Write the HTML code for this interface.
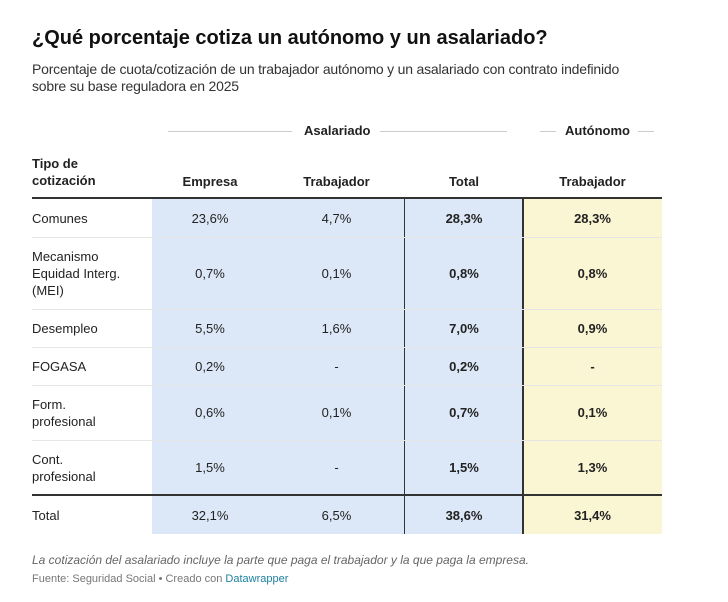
<!DOCTYPE html>
<html><head><meta charset="utf-8"><style>
body{margin:0;width:728px;height:602px;background:#fff;font-family:"Liberation Sans",sans-serif;color:#222;position:relative;overflow:hidden}
.a{position:absolute}
.c{position:absolute;text-align:center;font-size:13px}
.b{font-weight:bold}
.row{position:absolute;left:32px;width:630px;border-top:1px solid #e6e6e6}
</style></head><body>
<div class="a b" style="left:32px;top:27px;font-size:20px;color:#111">¿Qué porcentaje cotiza un autónomo y un asalariado?</div>
<div class="a" style="left:32px;top:61px;font-size:14px;line-height:17px;color:#333;width:690px;letter-spacing:-0.2px">Porcentaje de cuota/cotización de un trabajador autónomo y un asalariado con contrato indefinido<br>sobre su base reguladora en 2025</div>

<div class="a" style="left:168px;top:131px;width:124px;border-top:1px solid #ccc"></div>
<div class="a b" style="left:304px;top:123px;font-size:13px">Asalariado</div>
<div class="a" style="left:380px;top:131px;width:127px;border-top:1px solid #ccc"></div>
<div class="a" style="left:540px;top:131px;width:16px;border-top:1px solid #ccc"></div>
<div class="a b" style="left:565px;top:123px;font-size:13px">Autónomo</div>
<div class="a" style="left:638px;top:131px;width:16px;border-top:1px solid #ccc"></div>

<div class="a b" style="left:32px;top:155px;font-size:13px;line-height:17px">Tipo de<br>cotización</div>
<div class="c b" style="left:152px;width:116px;top:174px">Empresa</div>
<div class="c b" style="left:268px;width:137px;top:174px">Trabajador</div>
<div class="c b" style="left:405px;width:118px;top:174px">Total</div>
<div class="c b" style="left:523px;width:139px;top:174px">Trabajador</div>

<div class="a" style="left:152px;top:199px;width:371px;height:335px;background:#dce8f7"></div>
<div class="a" style="left:523px;top:199px;width:139px;height:335px;background:#faf6d3"></div>
<div class="a" style="left:32px;top:197px;width:630px;height:2px;background:#333"></div>
<div class="a" style="left:32px;top:494px;width:630px;height:2px;background:#333"></div>
<div class="a" style="left:404px;top:199px;width:1px;height:335px;background:#333"></div>
<div class="a" style="left:522px;top:199px;width:2px;height:335px;background:#333"></div>

<div id="rows"></div>

<div class="a" style="left:32px;top:553px;font-size:12px;font-style:italic;color:#666">La cotización del asalariado incluye la parte que paga el trabajador y la que paga la empresa.</div>
<div class="a" style="left:32px;top:573px;font-size:11px;color:#777">Fuente: Seguridad Social • Creado con <span style="color:#1d81a2">Datawrapper</span></div>

<script>
const labels=["Comunes","Mecanismo<br>Equidad Interg.<br>(MEI)","Desempleo","FOGASA","Form.<br>profesional","Cont.<br>profesional","Total"];
const empresa=["23,6%","0,7%","5,5%","0,2%","0,6%","1,5%","32,1%"];
const trabajador=["4,7%","0,1%","1,6%","-","0,1%","-","6,5%"];
const total=["28,3%","0,8%","7,0%","0,2%","0,7%","1,5%","38,6%"];
const autonomo=["28,3%","0,8%","0,9%","-","0,1%","1,3%","31,4%"];
const tops=[199,237,309,347,385,440,496];
const bots=[237,309,347,385,440,495,534];
const host=document.getElementById('rows');
function cell(left,width,top,h,txt,bold,name){
  const d=document.createElement('div');
  d.className='a';
  d.style.cssText=`left:${left}px;width:${width}px;top:${top}px;height:${h}px;display:flex;align-items:center;justify-content:${left===32?'flex-start':'center'};font-size:13px;line-height:17px;${bold?'font-weight:bold;':''}`;
  d.innerHTML=txt;
  
  
  host.appendChild(d);
}
for(let i=0;i<labels.length;i++){
  const t=tops[i],h=bots[i]-tops[i];
  if(i>0&&i<6){const s=document.createElement('div');s.className='row';s.style.top=t+'px';
    
    
    host.appendChild(s);}
  cell(32,120,t,h,labels[i],false,'row-label');
  cell(152,116,t,h,empresa[i],false,'cell-empresa');
  cell(268,137,t,h,trabajador[i],false,'cell-trabajador');
  cell(405,118,t,h,total[i],true,'cell-total');
  cell(523,139,t,h,autonomo[i],true,'cell-autonomo');
}
</script>
</body></html>
